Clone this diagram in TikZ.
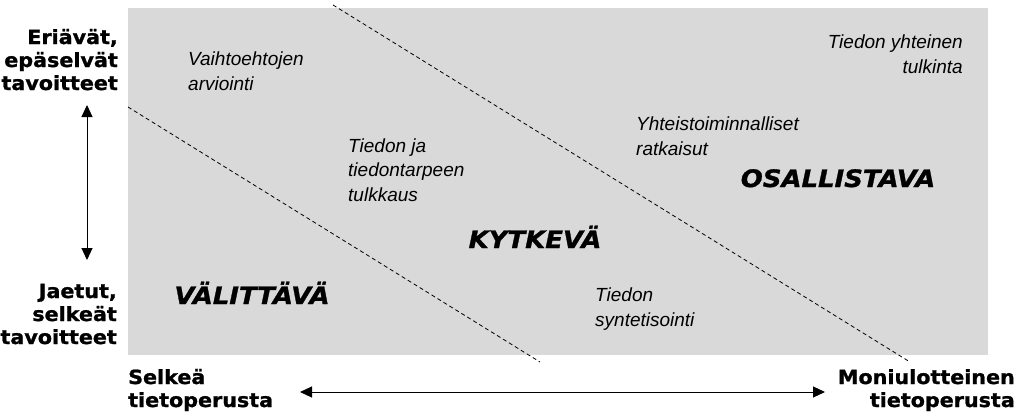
\documentclass[tikz,border=0pt]{standalone}
\usepackage{fontspec}
\setmainfont{Liberation Sans}
\newfontfamily\axisfont{DejaVu Sans}[FakeStretch=1.06, FakeBold=1.2]
\newfontfamily\zonefont{DejaVu Sans}[FakeStretch=1.08, FakeBold=1.2]
\usetikzlibrary{arrows.meta}
\definecolor{panel}{RGB}{217,217,217}
\tikzset{
  axislabel/.style={font=\axisfont\bfseries\fontsize{19.5}{23}\selectfont, inner sep=0pt},
  zonelabel/.style={font=\zonefont\bfseries\itshape\fontsize{24}{28}\selectfont, inner sep=0pt, anchor=base},
  activity/.style={font=\itshape\fontsize{19}{24.5}\selectfont, inner sep=0pt},
  divider/.style={dash pattern=on 4pt off 3pt, line width=0.8pt},
  axisarrow/.style={line width=1pt, {Triangle[length=12pt,width=11pt]}-{Triangle[length=12pt,width=11pt]}}
}
\begin{document}
\begin{tikzpicture}[x=1pt,y=-1pt]
\useasboundingbox (0,0) rectangle (1025,415);

% grey field of the three zones
\fill[panel] (128,8) rectangle (988,355);

% zone boundaries
\coordinate (d1a) at (128,107);
\coordinate (d1b) at (540,362);
\coordinate (d2a) at (333,5);
\coordinate (d2b) at (910,362);
\draw[divider] (d1a) -- (d1b);
\draw[divider] (d2a) -- (d2b);

% axis labels (multi-line nodes are placed by the baseline of their last line)
\node[axislabel, align=right, anchor=base east] (goalsHigh) at (118,90) {Eriävät,\\epäselvät\\tavoitteet};
\node[axislabel, align=right, anchor=base east] (goalsLow) at (117,344) {Jaetut,\\selkeät\\tavoitteet};
\node[axislabel, align=left, anchor=base west] (basisClear) at (128,407) {Selkeä\\tietoperusta};
\node[axislabel, align=right, anchor=base east] (basisMulti) at (1015,407) {Moniulotteinen\\tietoperusta};

% axis arrows
\coordinate (vTop) at (87,105);
\coordinate (vBot) at (87,260);
\coordinate (hLeft) at (300,392);
\coordinate (hRight) at (825,392);
\draw[axisarrow] (vTop) -- (vBot);
\draw[axisarrow] (hLeft) -- (hRight);

% zone names
\node[zonelabel] (zone1) at (252,304) {VÄLITTÄVÄ};
\node[zonelabel] (zone2) at (535,248) {KYTKEVÄ};
\node[zonelabel] (zone3) at (838,187) {OSALLISTAVA};

% activities
\node[activity, align=left, anchor=base west] (act1) at (188,90) {Vaihtoehtojen\\arviointi};
\node[activity, align=left, anchor=base west] (act2) at (348,201) {Tiedon ja\\tiedontarpeen\\tulkkaus};
\node[activity, align=left, anchor=base west] (act3) at (636,155) {Yhteistoiminnalliset\\ratkaisut};
\node[activity, align=right, anchor=base east] (act4) at (963,73) {Tiedon yhteinen\\tulkinta};
\node[activity, align=left, anchor=base west] (act5) at (595,326) {Tiedon\\syntetisointi};
\end{tikzpicture}
\end{document}
